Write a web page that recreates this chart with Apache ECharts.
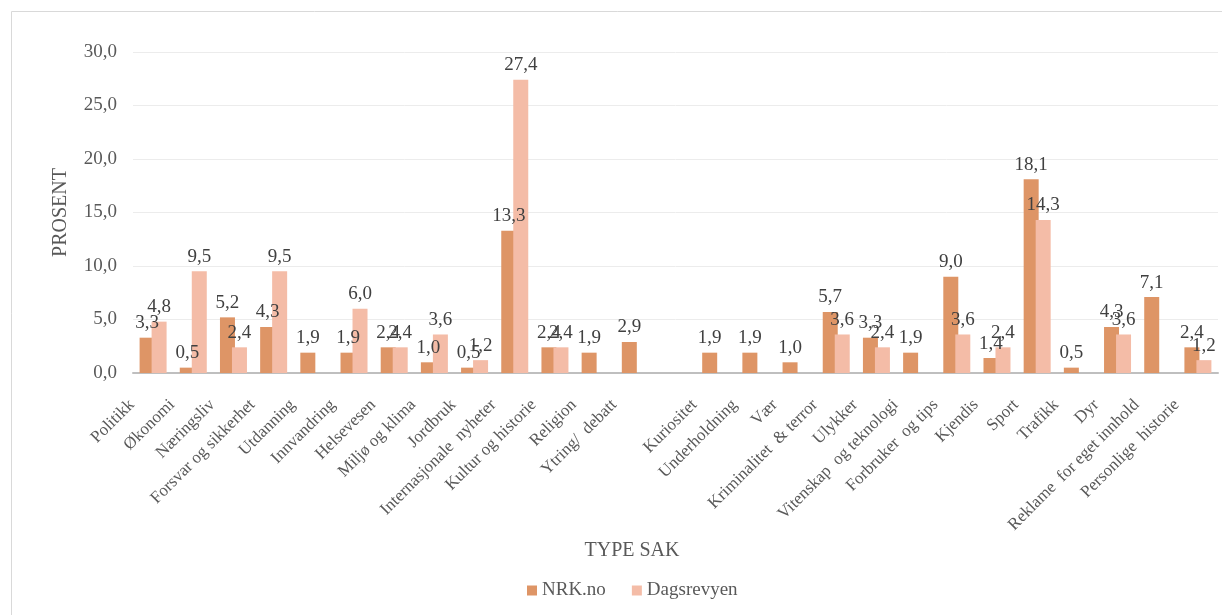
<!DOCTYPE html>
<html>
<head>
<meta charset="utf-8">
<script src="https://cdn.jsdelivr.net/npm/echarts@6/dist/echarts.min.js"></script>
<style>html,body{margin:0;padding:0;background:#fff}#c{width:1222px;height:615px}</style>
</head>
<body>
<div id="c"></div>
<script>
const categories = ['Politikk','Økonomi','Næringsliv','Forsvar og sikkerhet','Utdanning','Innvandring','Helsevesen','Miljø og klima','Jordbruk','Internasjonale  nyheter','Kultur og historie','Religion','Ytring/  debatt','','Kuriositet','Underholdning','Vær','Kriminalitet  & terror','Ulykker','Vitenskap  og teknologi','Forbruker  og tips','Kjendis','Sport','Trafikk','Dyr','Reklame  for eget innhold','Personlige  historie'];
const nrk = [3.3,0.5,5.2,4.3,1.9,1.9,2.4,1.0,0.5,13.3,2.4,1.9,2.9,null,1.9,1.9,1.0,5.7,3.3,1.9,9.0,1.4,18.1,0.5,4.3,7.1,2.4];
const dags = [4.8,9.5,2.4,9.5,null,6.0,2.4,3.6,1.2,27.4,2.4,null,null,null,null,null,null,3.6,2.4,null,3.6,2.4,14.3,null,3.6,null,1.2];
const yTicks = [0,5,10,15,20,25,30];
const seriesNames = ['NRK.no','Dagsrevyen'];

const font = '"Liberation Serif", "Times New Roman", serif';
const fmt = v => v.toFixed(1).replace('.', ',');
const chart = echarts.init(document.getElementById('c'));
chart.setOption({
  animation: false,
  textStyle: {fontFamily: font},
  graphic: [
    {type:'rect', shape:{x:11.5,y:11.5,width:1240,height:620}, style:{fill:'none', stroke:'#d9d9d9', lineWidth:1}, silent:true, z:-1},
    {type:'text', x:632, y:551, style:{text:'TYPE SAK', fontFamily: font, fontSize: 20, fill:'#595959', align:'center', verticalAlign:'middle'}, silent:true}
  ],
  grid: {left:133, right:4, top:52, bottom:242},
  legend: {
    bottom: 10, left: 522, itemWidth: 10, itemHeight: 10, itemGap: 26,
    icon: 'rect',
    textStyle: {fontFamily: font, fontSize: 19, color: '#595959'},
    data: seriesNames
  },
  xAxis: {
    type: 'category', data: categories,
    axisLine: {lineStyle: {color: '#bfbfbf', width: 2}},
    axisTick: {show: false},
    axisLabel: {rotate: 45, interval: 0, fontFamily: font, fontSize: 17, color: '#595959', margin: 8, padding: [0, 30, 0, 0]}
  },
  yAxis: {
    type: 'value', min: yTicks[0], max: yTicks[yTicks.length-1], interval: 5,
    name: 'PROSENT', nameLocation: 'middle', nameGap: 62,
    nameTextStyle: {fontFamily: font, fontSize: 20, color: '#595959'},
    axisLine: {show: false}, axisTick: {show: false},
    axisLabel: {fontFamily: font, fontSize: 19, color: '#595959', margin: 16, formatter: v => fmt(v)},
    splitLine: {lineStyle: {color: '#ececec', width: 1}}
  },
  series: [
    {name: seriesNames[0], type: 'bar', data: nrk, barWidth: 15, barGap: '-20%',
     itemStyle: {color: '#DE9566'},
     label: {show: true, position: 'top', distance: 5, fontFamily: font, fontSize: 19, color: '#404040', formatter: p => fmt(p.value)}},
    {name: seriesNames[1], type: 'bar', data: dags, barWidth: 15,
     itemStyle: {color: '#F4BCA7'},
     label: {show: true, position: 'top', distance: 5, fontFamily: font, fontSize: 19, color: '#404040', formatter: p => fmt(p.value)}}
  ]
});
</script>
</body>
</html>
